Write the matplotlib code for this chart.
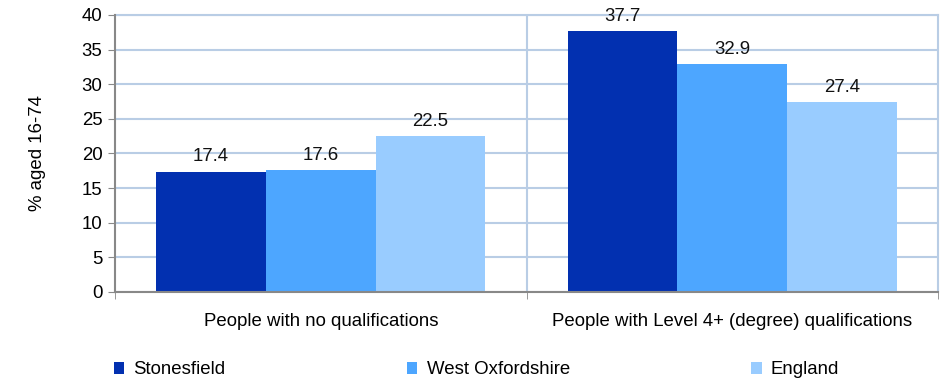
import matplotlib
matplotlib.use("Agg")
import matplotlib.pyplot as plt
import numpy as np
from matplotlib.patches import Patch

categories = ["People with no qualifications", "People with Level 4+ (degree) qualifications"]
series_names = ["Stonesfield", "West Oxfordshire", "England"]
stonesfield = [17.4, 37.7]
west_oxfordshire = [17.6, 32.9]
england = [22.5, 27.4]
colors = ["#0230B0", "#4DA6FF", "#99CCFF"]
yticks = [0, 5, 10, 15, 20, 25, 30, 35, 40]

plt.rcParams['font.family'] = ['Liberation Sans', 'DejaVu Sans']
fs = 13.4

fig = plt.figure(figsize=(9.41, 3.80), dpi=100)
ax = fig.add_axes([115/941, 1 - 292/380, (938-115)/941, (292-15)/380])

x = np.arange(len(categories))
w = 0.8 / 3
grid_c = "#B9CDE5"
for i, (vals, name, c) in enumerate(zip([stonesfield, west_oxfordshire, england], series_names, colors)):
    bars = ax.bar(x + (i - 1) * w, vals, width=w, color=c, label=name, zorder=3)
    ax.bar_label(bars, labels=[f"{v:.1f}" for v in vals], padding=4.5, fontsize=fs, color="#111111")

ax.set_xlim(-0.5, 1.5)
ax.set_ylim(0, 40)
ax.set_yticks(yticks)
ax.set_yticklabels([str(t) for t in yticks], fontsize=fs)
ax.set_xticks(x)
ax.set_xticklabels(categories, fontsize=fs)
ax.tick_params(axis='x', length=0, pad=15)
ax.set_xticks([-0.5, 0.5, 1.5], minor=True)
ax.tick_params(axis='x', which='minor', length=5, color="#888888", direction='out')
ax.tick_params(axis='y', length=5, color="#888888", pad=4)
ax.yaxis.grid(True, color=grid_c, linewidth=1.5, zorder=0)
ax.axvline(0.5, color=grid_c, linewidth=1.5, zorder=0)
for s in ['left', 'bottom']:
    ax.spines[s].set_color("#888888")
    ax.spines[s].set_linewidth(1.5)
    ax.spines[s].set_zorder(4)
for s in ['top', 'right']:
    ax.spines[s].set_color(grid_c)
    ax.spines[s].set_linewidth(1.5)
ax.set_ylabel("% aged 16-74", fontsize=fs, labelpad=26)

handles = [Patch(facecolor=c, edgecolor='none') for c in colors]
fig.legend(handles, series_names, loc='center left', bbox_to_anchor=(114/941, 1 - 370/380),
           ncol=3, frameon=False, fontsize=fs, handlelength=0.55, handleheight=0.55,
           handletextpad=0.5, columnspacing=9.75, borderpad=0, borderaxespad=0)

fig.savefig("out.png", dpi=100)
